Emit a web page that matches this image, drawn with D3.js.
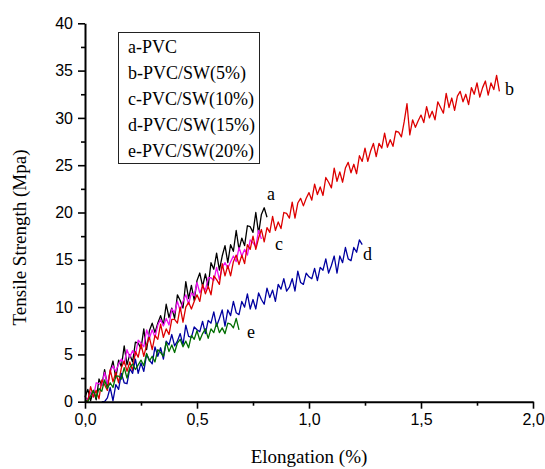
<!DOCTYPE html>
<html><head><meta charset="utf-8">
<script src="https://cdn.jsdelivr.net/npm/d3@7/dist/d3.min.js"></script>
<style>body{margin:0;background:#fff}svg{display:block}</style>
</head><body>
<svg id="chart" width="545" height="469"></svg>
<script>
// ---- data ----
const xTicks = [0, 0.5, 1.0, 1.5, 2.0];
const yTicks = [0, 5, 10, 15, 20, 25, 30, 35, 40];
const legendLabels = ["a-PVC", "b-PVC/SW(5%)", "c-PVC/SW(10%)", "d-PVC/SW(15%)", "e-PVC/SW(20%)"];
const curveLetters = ["a", "b", "c", "d", "e"];
const curveColors = ["#000000", "#dd0000", "#ee10ee", "#0000a0", "#006e00"];
// elongation sampled every 0.0125 %, first sample position per curve
const sampleStep = 0.0125;
const startA = 0, startB = 0, startC = 0, startD = 0.075, startE = 0;
// tensile strength (MPa) samples
const strengthA = [0.5,1.3,0.1,1.2,0.2,2.4,1.7,3.4,1.7,3.2,4.3,2.5,4.4,3.7,5.9,3.9,5.0,4.2,6.3,6.2,5.6,7.7,5.5,7.5,8.3,7.3,8.3,9.1,8.1,10.3,8.9,9.9,8.8,11.3,10.7,9.9,12.7,10.9,12.3,10.7,12.8,13.6,12.2,13.5,12.2,14.7,14.0,15.7,13.9,15.4,16.5,14.7,16.6,15.9,18.1,16.1,17.3,16.5,18.6,18.5,17.9,20.0,17.8,19.8,20.5,19.5];
const strengthB = [0.0,0.1,1.6,0.5,1.2,0.3,2.3,1.8, 1.2,3.4,2.1,3.1,2.0,3.6,4.3,3.2, 4.2,3.3,5.3,4.7,6.1,4.8,6.0,6.8, 5.5,7.0,6.6,8.2,6.8,7.7,7.1,8.7, 8.7,8.3,10.0,8.4,10.0,10.5,9.8,10.6, 11.3,10.6,12.4,11.4,12.2,11.3,13.3,12.9, 12.4,14.6,13.3,14.4,13.3,14.8,15.5,14.5, 15.5,14.6,16.6,16.1,17.5,16.1,17.3,18.2, 16.9,18.4,17.9,19.6,18.1,19.0,18.3,20.0, 19.9,19.4,21.1,19.4,21.0,21.5,20.7,21.5, 22.1,21.3,23.0,21.9,22.7,21.8,23.7,23.2, 22.6,24.7,23.3,24.3,23.2,24.7,25.3,24.2, 25.1,24.1,26.0,25.4,26.8,25.4,26.5,27.3, 25.9,27.3,26.8,28.4,26.9,27.7,27.0,28.6, 28.5,28.0,29.6,31.5,28.2,29.8,29.0,29.7, 30.3,29.5,31.2,30.0,30.7,29.8,31.7,31.1, 30.5,32.6,31.1,32.1,30.8,32.3,32.8,31.7, 32.5,31.4,33.2,32.5,33.7,32.2,33.2,33.9, 32.4,33.7,33.0,34.5,32.8];
const strengthC = [0.5,0.2,1.0,0.5,2.0,1.9,1.7,3.1,1.9,3.2,3.8,3.2,4.0,4.5,4.0,5.5,4.7,5.4,4.9,6.5,6.2,5.8,7.6,6.7,7.6,6.8,8.1,8.7,8.0,8.8,8.1,9.8,9.4,10.6,9.6,10.6,11.3,10.3,11.5,11.2,12.6,11.5,12.2,11.8,13.1,13.1,12.8,14.2,12.9,14.2,14.7,14.1,14.8,15.4,14.8,16.3,15.4,16.1,15.5,17.1,16.8,16.4,18.1,17.2];
const strengthD = [0.0,0.0, 0.4,1.5,0.1,1.8,1.3,3.0,2.0,1.9, 3.5,3.0,4.5,3.0,4.1,3.2,5.0,4.4, 4.0,5.8,4.8,5.7,4.5,6.4,6.0,7.1, 5.9,6.4,7.2,6.0,8.1,6.9,6.8,7.9, 7.6,7.4,8.5,7.2,8.6,8.3,9.5,8.0, 8.8,9.7,8.0,9.7,9.1,10.6,9.4,9.2, 10.6,10.0,11.4,9.8,10.8,9.8,11.5,10.8, 10.3,12.0,11.0,11.8,10.6,12.4,11.9,13.0, 11.7,12.1,13.0,11.7,13.8,12.6,12.4,13.6, 13.2,13.0,14.1,12.8,14.2,13.9,15.1,13.6, 14.4,15.4,13.6,15.4,14.7,16.3,15.1,14.9, 16.3,15.8,17.1,16.6];
const strengthE = [0.2,0.0,0.6,1.2,0.4,1.4,1.1,2.3, 1.4,2.0,1.5,2.7,2.7,2.4,3.6,2.5, 3.6,4.0,3.4,3.9,4.4,3.8,5.1,4.3, 4.8,4.2,5.5,5.2,4.8,6.3,5.3,6.0, 5.2,6.2,6.6,5.8,6.4,5.7,7.0,6.6, 7.5,6.5,7.2,7.7,6.7,7.7,7.3,8.3, 7.3,7.8,7.2,8.3,8.2,7.8,8.8,7.6];
// label anchor positions in data units (elongation %, MPa)
const labelX = [0.8125, 1.875, 0.848, 1.241, 0.723];
const labelY = [21.3, 32.4, 16.0, 15.0, 6.7];

// ---- chart ----
const W = 545, H = 469;
const margin = {left: 85, right: 12, top: 23.3, bottom: 67.3};
const svg = d3.select("#chart");
const x = d3.scaleLinear().domain([0, 2]).range([margin.left, W - margin.right]);
const y = d3.scaleLinear().domain([0, 40]).range([H - margin.bottom, margin.top]);

const starts = [startA, startB, startC, startD, startE];
const strengths = [strengthA, strengthB, strengthC, strengthD, strengthE];
const series = strengths.map((vals, k) => vals.map((v, i) => [starts[k] + i * sampleStep, v]));

const line = d3.line().x(d => x(d[0])).y(d => y(d[1]));
const drawOrder = [0, 2, 1, 3, 4];
const g = svg.append("g");
drawOrder.forEach(k => {
  g.append("path").datum(series[k])
    .attr("fill", "none").attr("stroke", curveColors[k])
    .attr("stroke-width", 1.3).attr("stroke-linejoin", "round")
    .attr("d", line);
});

// axes
const fmt = d => d3.format(".1f")(d).replace(".", ",");
const xAxis = svg.append("g").attr("transform", `translate(0,${y(0)})`)
  .call(d3.axisBottom(x).tickValues(xTicks).tickFormat(fmt).tickSize(7).tickSizeOuter(0).tickPadding(5));
const xMinor = svg.append("g").attr("transform", `translate(0,${y(0)})`)
  .call(d3.axisBottom(x).tickValues([0.25, 0.75, 1.25, 1.75]).tickFormat("").tickSize(4).tickSizeOuter(0));
xMinor.select(".domain").remove();
const yAxis = svg.append("g").attr("transform", `translate(${x(0)},0)`)
  .call(d3.axisLeft(y).tickValues(yTicks).tickFormat(d => d).tickSize(7).tickSizeOuter(0).tickPadding(5));
const yMinor = svg.append("g").attr("transform", `translate(${x(0)},0)`)
  .call(d3.axisLeft(y).tickValues([2.5, 7.5, 12.5, 17.5, 22.5, 27.5, 32.5, 37.5]).tickFormat("").tickSize(4).tickSizeOuter(0));
yMinor.select(".domain").remove();
[xAxis, yAxis].forEach(a => {
  a.select(".domain").attr("stroke", "#000").attr("stroke-width", 2);
  a.selectAll(".tick text").attr("font-family", "Liberation Sans, Arial, sans-serif").attr("font-size", 16).attr("fill", "#000");
});
[xAxis, yAxis, xMinor, yMinor].forEach(a => a.selectAll(".tick line").attr("stroke", "#000").attr("stroke-width", 1.6));

// axis titles
const serif = "Liberation Serif, Times New Roman, serif";
svg.append("text").attr("x", 309).attr("y", 463)
  .attr("text-anchor", "middle").attr("font-family", serif).attr("font-size", 19).attr("fill", "#000")
  .text("Elongation (%)");
svg.append("text").attr("transform", `translate(26,${y(20) + 25}) rotate(-90)`)
  .attr("text-anchor", "middle").attr("font-family", serif).attr("font-size", 19).attr("fill", "#000")
  .text("Tensile Strength (Mpa)");

// curve letters
curveLetters.forEach((t, k) => {
  svg.append("text").attr("x", x(labelX[k])).attr("y", y(labelY[k]))
    .attr("font-family", serif).attr("font-size", 18).attr("fill", "#000").text(t);
});

// legend
const lg = svg.append("g");
lg.append("rect").attr("x", 118.5).attr("y", 32.5).attr("width", 141).attr("height", 131)
  .attr("fill", "#fff").attr("stroke", "#222").attr("stroke-width", 1);
legendLabels.forEach((t, i) => {
  lg.append("text").attr("x", 128).attr("y", 53.3 + i * 25.85)
    .attr("font-family", serif).attr("font-size", 18).attr("fill", "#000").text(t);
});
</script>
</body></html>
